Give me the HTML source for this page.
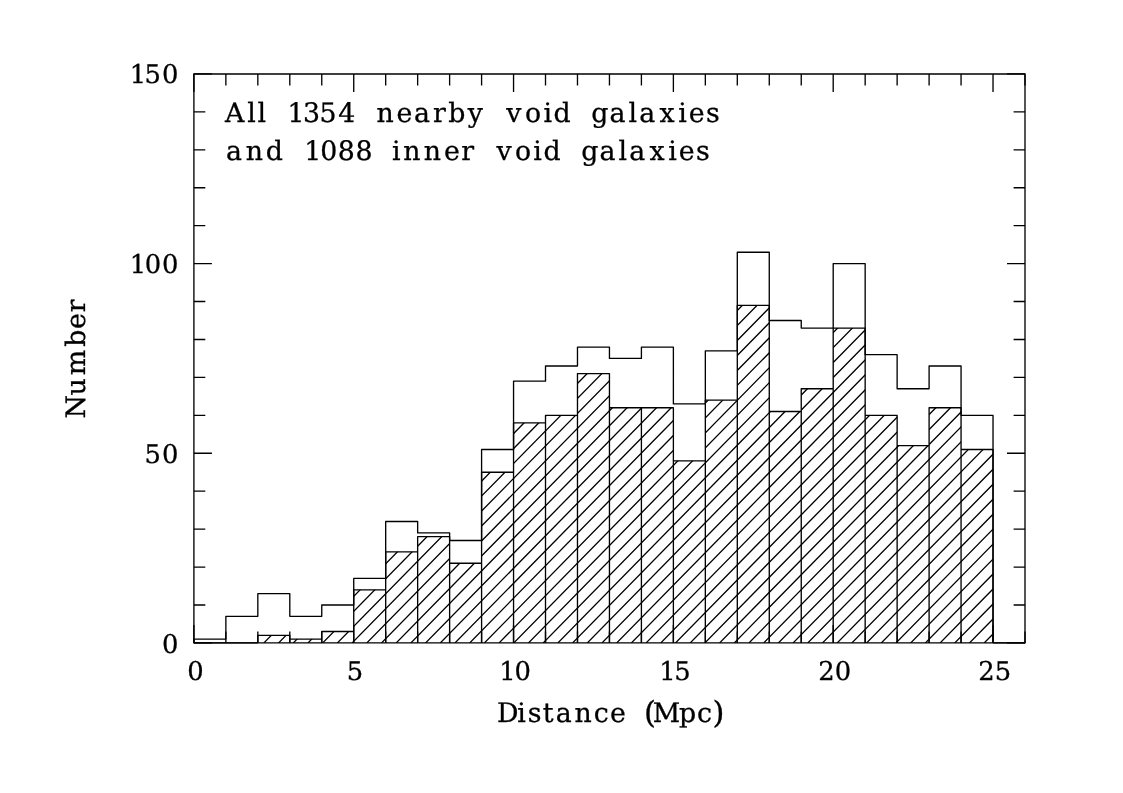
<!DOCTYPE html>
<html lang="en"><head><meta charset="utf-8">
<style>html,body{margin:0;padding:0;background:#fff;}body{width:1123px;height:793px;overflow:hidden;}svg{display:block;}text{fill:#000;text-rendering:geometricPrecision;stroke:#000;stroke-width:0.3px;stroke-linejoin:round;}</style></head><body>
<svg width="1123" height="793" viewBox="0 0 1123 793">
<rect x="0" y="0" width="1123" height="793" fill="#fff"/>
<defs><clipPath id="bars">
<rect x="257.83" y="635.31" width="31.96" height="7.59"/>
<rect x="289.8" y="639.11" width="31.96" height="3.79"/>
<rect x="321.76" y="631.52" width="31.96" height="11.38"/>
<rect x="353.73" y="589.8" width="31.96" height="53.1"/>
<rect x="385.69" y="551.87" width="31.96" height="91.03"/>
<rect x="417.65" y="536.7" width="31.96" height="106.2"/>
<rect x="449.62" y="563.25" width="31.96" height="79.65"/>
<rect x="481.59" y="472.21" width="31.96" height="170.69"/>
<rect x="513.55" y="422.91" width="31.96" height="219.99"/>
<rect x="545.51" y="415.32" width="31.96" height="227.58"/>
<rect x="577.48" y="373.6" width="31.96" height="269.3"/>
<rect x="609.45" y="407.73" width="31.96" height="235.17"/>
<rect x="641.41" y="407.73" width="31.96" height="235.17"/>
<rect x="673.38" y="460.84" width="31.96" height="182.06"/>
<rect x="705.34" y="400.15" width="31.96" height="242.75"/>
<rect x="737.3" y="305.32" width="31.96" height="337.58"/>
<rect x="769.27" y="411.53" width="31.96" height="231.37"/>
<rect x="801.24" y="388.77" width="31.96" height="254.13"/>
<rect x="833.2" y="328.08" width="31.96" height="314.82"/>
<rect x="865.16" y="415.32" width="31.96" height="227.58"/>
<rect x="897.13" y="445.66" width="31.96" height="197.24"/>
<rect x="929.1" y="407.73" width="31.96" height="235.17"/>
<rect x="961.06" y="449.46" width="31.96" height="193.44"/>
</clipPath></defs>
<g clip-path="url(#bars)"><path d="M-147.7 642.9 L185.76 303.32 M-133 642.9 L200.46 303.32 M-118.3 642.9 L215.16 303.32 M-103.6 642.9 L229.86 303.32 M-88.9 642.9 L244.56 303.32 M-74.2 642.9 L259.26 303.32 M-59.5 642.9 L273.96 303.32 M-44.8 642.9 L288.66 303.32 M-30.1 642.9 L303.36 303.32 M-15.4 642.9 L318.06 303.32 M-0.7 642.9 L332.76 303.32 M14 642.9 L347.46 303.32 M28.7 642.9 L362.16 303.32 M43.4 642.9 L376.86 303.32 M58.1 642.9 L391.56 303.32 M72.8 642.9 L406.26 303.32 M87.5 642.9 L420.96 303.32 M102.2 642.9 L435.66 303.32 M116.9 642.9 L450.36 303.32 M131.6 642.9 L465.06 303.32 M146.3 642.9 L479.76 303.32 M161 642.9 L494.46 303.32 M175.7 642.9 L509.16 303.32 M190.4 642.9 L523.86 303.32 M205.1 642.9 L538.56 303.32 M219.8 642.9 L553.26 303.32 M234.5 642.9 L567.96 303.32 M249.2 642.9 L582.66 303.32 M263.9 642.9 L597.36 303.32 M278.6 642.9 L612.06 303.32 M293.3 642.9 L626.76 303.32 M308 642.9 L641.46 303.32 M322.7 642.9 L656.16 303.32 M337.4 642.9 L670.86 303.32 M352.1 642.9 L685.56 303.32 M366.8 642.9 L700.26 303.32 M381.5 642.9 L714.96 303.32 M396.2 642.9 L729.66 303.32 M410.9 642.9 L744.36 303.32 M425.6 642.9 L759.06 303.32 M440.3 642.9 L773.76 303.32 M455 642.9 L788.46 303.32 M469.7 642.9 L803.16 303.32 M484.4 642.9 L817.86 303.32 M499.1 642.9 L832.56 303.32 M513.8 642.9 L847.26 303.32 M528.5 642.9 L861.96 303.32 M543.2 642.9 L876.66 303.32 M557.9 642.9 L891.36 303.32 M572.6 642.9 L906.06 303.32 M587.3 642.9 L920.76 303.32 M602 642.9 L935.46 303.32 M616.7 642.9 L950.16 303.32 M631.4 642.9 L964.86 303.32 M646.1 642.9 L979.56 303.32 M660.8 642.9 L994.26 303.32 M675.5 642.9 L1008.96 303.32 M690.2 642.9 L1023.66 303.32 M704.9 642.9 L1038.36 303.32 M719.6 642.9 L1053.06 303.32 M734.3 642.9 L1067.76 303.32 M749 642.9 L1082.46 303.32 M763.7 642.9 L1097.16 303.32 M778.4 642.9 L1111.86 303.32 M793.1 642.9 L1126.56 303.32 M807.8 642.9 L1141.26 303.32 M822.5 642.9 L1155.96 303.32 M837.2 642.9 L1170.66 303.32 M851.9 642.9 L1185.36 303.32 M866.6 642.9 L1200.06 303.32 M881.3 642.9 L1214.76 303.32 M896 642.9 L1229.46 303.32 M910.7 642.9 L1244.16 303.32 M925.4 642.9 L1258.86 303.32 M940.1 642.9 L1273.56 303.32 M954.8 642.9 L1288.26 303.32 M969.5 642.9 L1302.96 303.32 M984.2 642.9 L1317.66 303.32 M998.9 642.9 L1332.36 303.32" fill="none" stroke="#000" stroke-width="1.33"/></g>
<path d="M257.83 642.9 V635.31 H289.8 V642.9 M289.8 642.9 V639.11 H321.76 V642.9 M321.76 642.9 V631.52 H353.73 V642.9 M353.73 642.9 V589.8 H385.69 V642.9 M385.69 642.9 V551.87 H417.65 V642.9 M417.65 642.9 V536.7 H449.62 V642.9 M449.62 642.9 V563.25 H481.59 V642.9 M481.59 642.9 V472.21 H513.55 V642.9 M513.55 642.9 V422.91 H545.51 V642.9 M545.51 642.9 V415.32 H577.48 V642.9 M577.48 642.9 V373.6 H609.45 V642.9 M609.45 642.9 V407.73 H641.41 V642.9 M641.41 642.9 V407.73 H673.38 V642.9 M673.38 642.9 V460.84 H705.34 V642.9 M705.34 642.9 V400.15 H737.3 V642.9 M737.3 642.9 V305.32 H769.27 V642.9 M769.27 642.9 V411.53 H801.24 V642.9 M801.24 642.9 V388.77 H833.2 V642.9 M833.2 642.9 V328.08 H865.16 V642.9 M865.16 642.9 V415.32 H897.13 V642.9 M897.13 642.9 V445.66 H929.1 V642.9 M929.1 642.9 V407.73 H961.06 V642.9 M961.06 642.9 V449.46 H993.02 V642.9" fill="none" stroke="#000" stroke-width="1.33" stroke-linejoin="round"/>
<path d="M193.9 642.9 V639.11 H225.87 V616.35 H257.83 V593.59 H289.8 V616.35 H321.76 V604.97 H353.73 V578.42 H385.69 V521.52 H417.65 V532.9 H449.62 V540.49 H481.59 V449.46 H513.55 V381.18 H545.51 V366.01 H577.48 V347.05 H609.45 V358.42 H641.41 V347.05 H673.38 V403.94 H705.34 V350.84 H737.3 V252.22 H769.27 V320.49 H801.24 V328.08 H833.2 V263.6 H865.16 V354.63 H897.13 V388.77 H929.1 V366.01 H961.06 V415.32 H993.02 V642.9" fill="none" stroke="#000" stroke-width="1.33" stroke-linejoin="round"/>
<path d="M193.9 642.9 H257.83 M993.02 642.9 H1025" fill="none" stroke="#000" stroke-width="1.33"/>
<path d="M193.9 642.9 H1025 V74 H193.9 Z" fill="none" stroke="#000" stroke-width="1.33"/>
<path d="M193.9 642.9 v-18 M193.9 74 v18 M225.87 642.9 v-11.4 M225.87 74 v11.4 M257.83 642.9 v-11.4 M257.83 74 v11.4 M289.8 642.9 v-11.4 M289.8 74 v11.4 M321.76 642.9 v-11.4 M321.76 74 v11.4 M353.73 642.9 v-18 M353.73 74 v18 M385.69 642.9 v-11.4 M385.69 74 v11.4 M417.65 642.9 v-11.4 M417.65 74 v11.4 M449.62 642.9 v-11.4 M449.62 74 v11.4 M481.59 642.9 v-11.4 M481.59 74 v11.4 M513.55 642.9 v-18 M513.55 74 v18 M545.51 642.9 v-11.4 M545.51 74 v11.4 M577.48 642.9 v-11.4 M577.48 74 v11.4 M609.45 642.9 v-11.4 M609.45 74 v11.4 M641.41 642.9 v-11.4 M641.41 74 v11.4 M673.38 642.9 v-18 M673.38 74 v18 M705.34 642.9 v-11.4 M705.34 74 v11.4 M737.3 642.9 v-11.4 M737.3 74 v11.4 M769.27 642.9 v-11.4 M769.27 74 v11.4 M801.24 642.9 v-11.4 M801.24 74 v11.4 M833.2 642.9 v-18 M833.2 74 v18 M865.16 642.9 v-11.4 M865.16 74 v11.4 M897.13 642.9 v-11.4 M897.13 74 v11.4 M929.1 642.9 v-11.4 M929.1 74 v11.4 M961.06 642.9 v-11.4 M961.06 74 v11.4 M993.02 642.9 v-18 M993.02 74 v18 M1024.99 642.9 v-11.4 M1024.99 74 v11.4 M193.9 642.9 h18 M1025 642.9 h-18 M193.9 604.97 h11.4 M1025 604.97 h-11.4 M193.9 567.04 h11.4 M1025 567.04 h-11.4 M193.9 529.11 h11.4 M1025 529.11 h-11.4 M193.9 491.18 h11.4 M1025 491.18 h-11.4 M193.9 453.25 h18 M1025 453.25 h-18 M193.9 415.32 h11.4 M1025 415.32 h-11.4 M193.9 377.39 h11.4 M1025 377.39 h-11.4 M193.9 339.46 h11.4 M1025 339.46 h-11.4 M193.9 301.53 h11.4 M1025 301.53 h-11.4 M193.9 263.6 h18 M1025 263.6 h-18 M193.9 225.67 h11.4 M1025 225.67 h-11.4 M193.9 187.74 h11.4 M1025 187.74 h-11.4 M193.9 149.81 h11.4 M1025 149.81 h-11.4 M193.9 111.88 h11.4 M1025 111.88 h-11.4 M193.9 73.95 h18 M1025 73.95 h-18" fill="none" stroke="#000" stroke-width="1.33"/>
<g font-family='"DejaVu Serif", "Liberation Serif", serif' font-size="26.8">
<g font-size="25.8">
<text x="187.2" y="679.6">0</text>
<text x="346.74" y="679.6">5</text>
<text x="499.3 514.6" y="679.6">10</text>
<text x="659.3 674.34" y="679.6">15</text>
<text x="818.23 834.8" y="679.6">20</text>
<text x="978.18 994.84" y="679.6">25</text>
<text x="161.95" y="653.05">0</text>
<text x="144.39 161.95" y="462.7">50</text>
<text x="129.65 144.7 161.95" y="273.05">100</text>
<text x="129.65 144.39 161.95" y="83.4">150</text>
</g>
<text x="224.92 247.23 257.58 266.15 287.49 303.1 319.52 338.29 355.34 376.51 396.62 414.07 432.91 448.31 467.86 483 506.21 524.89 543.49 553.45 570.6 591.15 609.47 628.43 639.37 659.44 678.14 688.67 705.91" y="122">All 1354 nearby void galaxies</text>
<text x="226.02 245.71 265.75 282.9 304.29 320.23 337.63 355.53 372.58 391.94 403.31 423.86 444.02 461.16 473.97 496.41 515.09 533.19 543.55 560.7 581.15 599.47 618.43 629.37 649.44 668.14 678.67 695.91" y="160">and 1088 inner void galaxies</text>
<text x="496.94 517.34 527.76 542.63 555.77 574.46 593.79 609.97 625.83 643.96 652.84 678.96 696.94 712.41" y="722.2 722.2 722.2 722.2 722.2 722.2 722.2 722.2 722.2 722.9 722.2 722.2 722.2 722.9">Distance <tspan font-size="30.6">(</tspan>Mpc<tspan font-size="30.6">)</tspan></text>
<text transform="translate(85.05 0) rotate(-90)" x="-418.54 -395.39 -375.17 -346.84 -328.88 -312.24" y="0">Number</text>
</g>
</svg></body></html>
